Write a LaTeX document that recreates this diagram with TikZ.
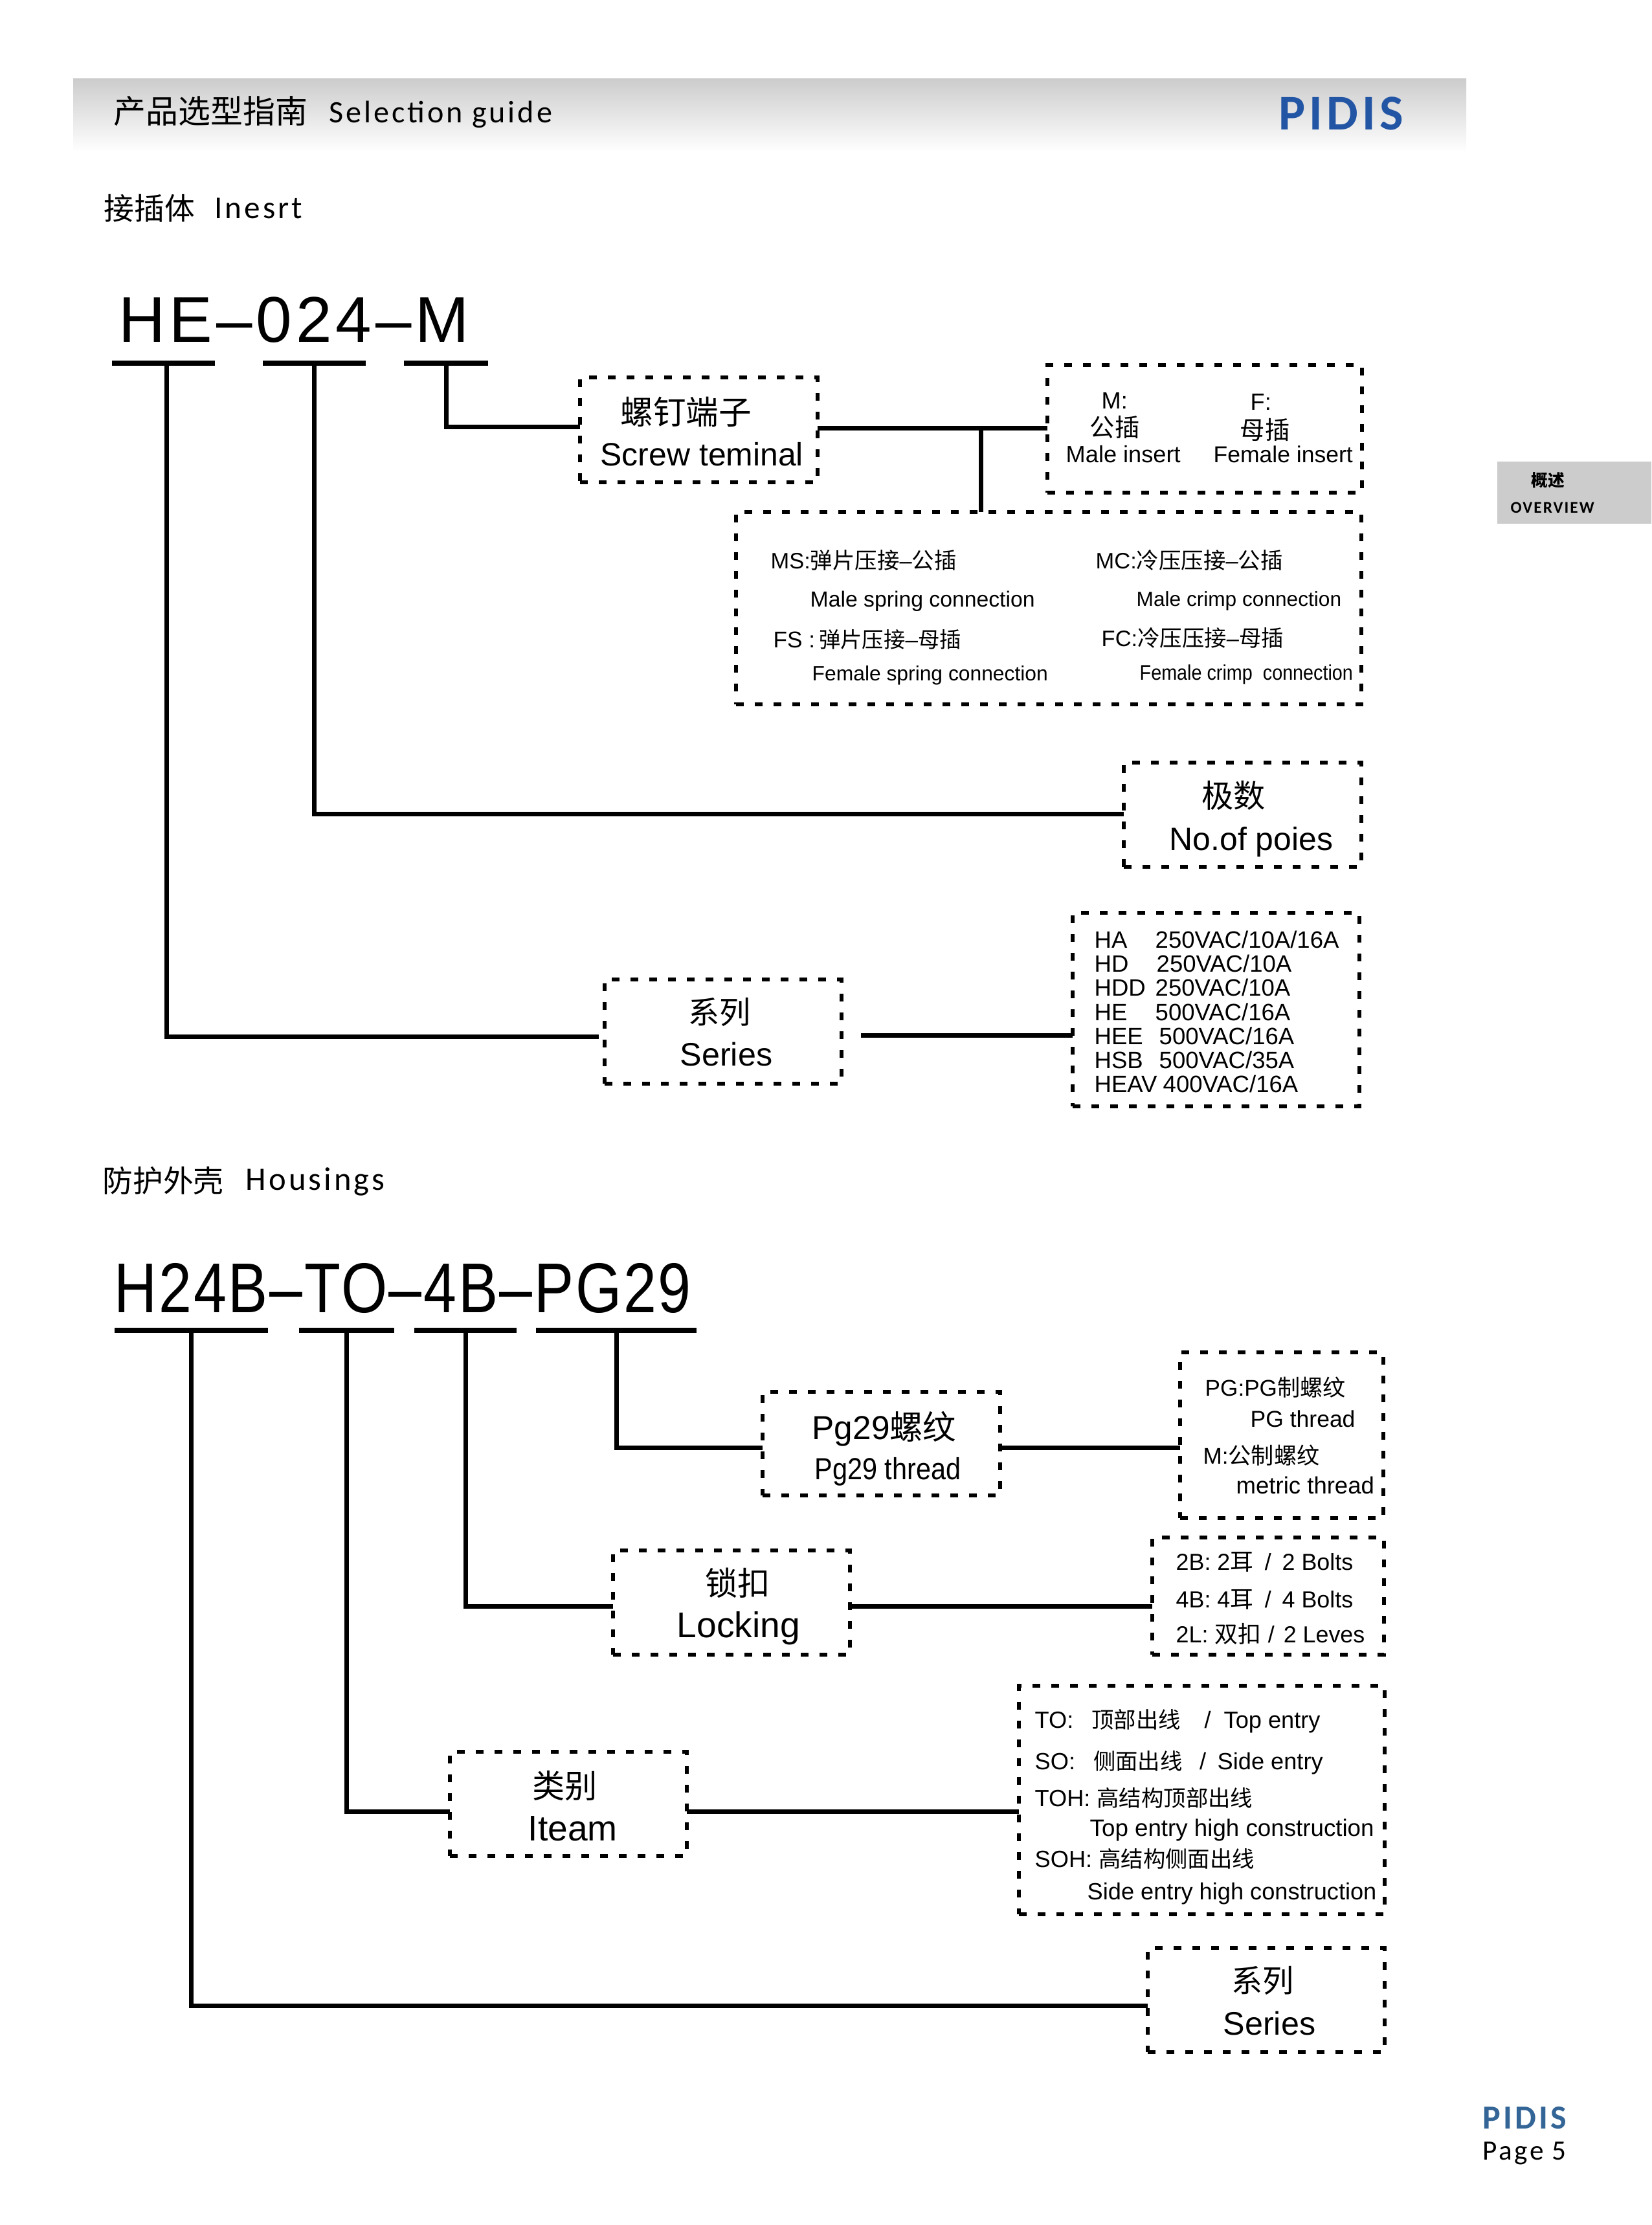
\documentclass[tikz,border=0pt]{standalone}
\usepackage{fontspec}
\usepackage{xcolor}
\usepackage{tikz}
\usetikzlibrary{calc}
\setmainfont{Liberation Sans}
\newfontfamily\cjk{Noto Sans CJK SC}
\newfontfamily\cjksmall[Scale=0.95]{Noto Sans CJK SC}
\newfontfamily\condfont[FakeStretch=0.88]{Liberation Sans}
\newfontfamily\codeafont[LetterSpace=6]{Liberation Sans}
\newfontfamily\codebfont[FakeStretch=0.84,LetterSpace=2.5]{Liberation Sans}
\newfontfamily\headfont[LetterSpace=8]{Carlito}
\newcommand{\zh}[1]{{\cjk #1}}
\newcommand{\zhs}[1]{{\cjksmall #1}}
\definecolor{logoc}{RGB}{35,85,165}
\definecolor{footc}{RGB}{51,101,150}

\begin{document}
\begin{tikzpicture}[
    txt/.style={anchor=base west, inner sep=0pt, font=\fontsize{#1}{#1}\selectfont},
    dbox/.style={draw, anchor=north west, inner sep=0pt, outer sep=0pt, line width=0.055cm,
      dash pattern=on 0.12cm off 0.17cm},
    bar/.style={fill=black, inner sep=0pt, outer sep=0pt, minimum height=0.08cm, minimum width=#1},
    wire/.style={line width=0.07cm}]
  \useasboundingbox (0,0) rectangle (25.51,-34.37);
  \node[anchor=north west, inner sep=0pt, outer sep=0pt, minimum width=21.52cm, minimum height=1.14cm,
    top color=black!20, bottom color=white] (head) at (1.13,-1.21) {};
  \node[txt=14.2] (headzh) at (1.75,-1.90) {\zh{产品选型指南}};
  \node[txt=13.7] (headen) at (5.08,-1.89) {\headfont Selection guide};
  \node[txt=22, text=logoc] (headlogo) at (19.75,-2.00) {\headfont\bfseries PIDIS};
  \node[anchor=north west, inner sep=0pt, outer sep=0pt, minimum width=2.38cm, minimum height=0.96cm,
    fill=black!20] (tab) at (23.13,-7.13) {};
  \node[txt=7.3] (tabzh) at (23.65,-7.51) {\cjk\bfseries 概述};
  \node[txt=7.2] (taben) at (23.33,-7.92) {\headfont\bfseries OVERVIEW};
  \node[txt=14.8, text=footc] (footlogo) at (22.90,-32.88) {\headfont\bfseries PIDIS};
  \node[txt=12.3] (footpage) at (22.90,-33.36) {\headfont Page 5};

  \node[txt=13.3] (secazh) at (1.60,-3.39) {\zh{接插体}};
  \node[txt=14] (secaen) at (3.31,-3.37) {\headfont Inesrt};
  \node[txt=28.4] (codea) at (1.83,-5.28) {\codeafont HE–024–M};
  \node[bar=1.59cm] (barhe) at (2.525,-5.61) {};
  \node[bar=1.59cm] (barpole) at (4.855,-5.61) {};
  \node[bar=1.30cm] (barm) at (6.89,-5.61) {};

  \node[dbox, minimum width=3.67cm, minimum height=1.62cm] (screw) at (8.96,-5.83) {};
  \node[txt=14.4] (screwzh) at (9.58,-6.55) {\zh{螺钉端子}};
  \node[txt=14.2] (screwen) at (9.27,-7.19) {Screw teminal};

  \node[dbox, minimum width=4.86cm, minimum height=1.97cm] (mf) at (16.18,-5.64) {};
  \node[txt=10.3] (mcode) at (17.01,-6.31) {M:};
  \node[txt=10.9] (mzh) at (16.83,-6.74) {\zh{公插}};
  \node[txt=10.3] (men) at (16.46,-7.14) {Male insert};
  \node[txt=10.3] (fcode) at (19.31,-6.33) {F:};
  \node[txt=10.9] (fzh) at (19.15,-6.78) {\zh{母插}};
  \node[txt=10.1] (fen) at (18.74,-7.14) {Female insert};

  \node[dbox, minimum width=9.66cm, minimum height=2.97cm] (conn) at (11.37,-7.91) {};
  \node[txt=9.8] (mszh) at (11.90,-8.78) {MS:\zh{弹片压接}–\zh{公插}};
  \node[txt=9.6] (msen) at (12.51,-9.37) {Male spring connection};
  \node[txt=10] (fszh) at (11.94,-10.00) {FS :\,\zhs{弹片压接}–\zhs{母插}};
  \node[txt=9.05] (fsen) at (12.54,-10.51) {Female spring connection};
  \node[txt=9.8] (mczh) at (16.92,-8.78) {MC:\zh{冷压压接}–\zh{公插}};
  \node[txt=9] (mcen) at (17.55,-9.36) {Male crimp connection};
  \node[txt=9.8] (fczh) at (17.01,-9.98) {FC:\zh{冷压压接}–\zh{母插}};
  \node[txt=9.3] (fcen) at (17.60,-10.50) {\condfont Female crimp\ \ connection};

  \node[dbox, minimum width=3.67cm, minimum height=1.61cm] (pole) at (17.36,-11.78) {};
  \node[txt=14] (polezh) at (18.56,-12.47) {\zh{极数}};
  \node[txt=14.2] (poleen) at (18.06,-13.13) {No.of poies};

  \node[dbox, minimum width=3.66cm, minimum height=1.61cm] (serie) at (9.34,-15.13) {};
  \node[txt=13.7] (seriezh) at (10.63,-15.81) {\zh{系列}};
  \node[txt=14.3] (serieen) at (10.50,-16.46) {Series};

  \node[dbox, minimum width=4.43cm, minimum height=2.99cm] (rating) at (16.57,-14.10) {};
  \foreach \i/\y/\code/\vx/\val in {
      1/14.64/HA/17.84/{250VAC/10A/16A},
      2/15.01/HD/17.86/{250VAC/10A},
      3/15.38/HDD/17.84/{250VAC/10A},
      4/15.76/HE/17.84/{500VAC/16A},
      5/16.13/HEE/17.90/{500VAC/16A},
      6/16.50/HSB/17.90/{500VAC/35A},
      7/16.87/HEAV/17.96/{400VAC/16A}} {
    \node[txt=10.4] (code\i) at (16.90,-\y) {\code};
    \node[txt=10.4] (val\i) at (\vx,-\y) {\val};
  }

  \coordinate (tee) at (15.15,-6.61);
  \coordinate (screwin) at (0,-6.59);
  \coordinate (polerow) at (0,-12.57);
  \coordinate (seriein) at (9.25,-16.01);
  \coordinate (serieout) at (13.30,-15.99);
  \draw[wire] (barm.south) |- (screwin -| screw.west);
  \draw[wire] (tee -| screw.east) -- (tee -| mf.west);
  \draw[wire] (tee) -- (tee |- conn.north);
  \draw[wire] (barpole.south) |- (polerow -| pole.west);
  \draw[wire] ([xshift=0.045cm]barhe.south) |- (seriein);
  \draw[wire] (serieout) -- (serieout -| rating.west);

  \node[txt=13.3] (secbzh) at (1.58,-18.41) {\zh{防护外壳}};
  \node[txt=14.4] (secben) at (3.79,-18.38) {\headfont Housings};
  \node[txt=31] (codeb) at (1.76,-20.27) {\codebfont H24B–TO–4B–PG29};
  \node[bar=2.37cm] (barh) at (2.955,-20.55) {};
  \node[bar=1.47cm] (barto) at (5.355,-20.55) {};
  \node[bar=1.58cm] (barb) at (7.19,-20.55) {};
  \node[bar=2.48cm] (barpg) at (9.52,-20.55) {};

  \node[dbox, minimum width=3.67cm, minimum height=1.60cm] (thread) at (11.78,-21.50) {};
  \node[txt=14.6] (threadzh) at (12.54,-22.23) {Pg29\zh{螺纹}};
  \node[txt=13.4] (threaden) at (12.58,-22.85) {\condfont Pg29 thread};

  \node[dbox, minimum width=3.14cm, minimum height=2.56cm] (pgbox) at (18.23,-20.89) {};
  \node[txt=10] (pgzh) at (18.61,-21.56) {PG:PG\zh{制螺纹}};
  \node[txt=10.1] (pgen) at (19.31,-22.04) {PG thread};
  \node[txt=10] (metzh) at (18.58,-22.61) {M:\zh{公制螺纹}};
  \node[txt=10.4] (meten) at (19.09,-23.07) {metric thread};

  \node[dbox, minimum width=3.66cm, minimum height=1.61cm] (lock) at (9.47,-23.95) {};
  \node[txt=14.3] (lockzh) at (10.89,-24.64) {\zh{锁扣}};
  \node[txt=15.7] (locken) at (10.45,-25.29) {Locking};

  \node[dbox, minimum width=3.58cm, minimum height=1.81cm] (bolts) at (17.80,-23.75) {};
  \node[txt=10.2] (bolta) at (18.16,-24.25) {2B: 2\zh{耳}\hspace{5pt}/\hspace{4.8pt}2 Bolts};
  \node[txt=10.2] (boltb) at (18.16,-24.83) {4B: 4\zh{耳}\hspace{5pt}/\hspace{4.8pt}4 Bolts};
  \node[txt=10.2] (boltc) at (18.16,-25.37) {2L: \zh{双扣}\hspace{3pt}/\hspace{4pt}2 Leves};

  \node[dbox, minimum width=3.66cm, minimum height=1.61cm] (item) at (6.95,-27.06) {};
  \node[txt=14.3] (itemzh) at (8.22,-27.77) {\zh{类别}};
  \node[txt=15.7] (itemen) at (8.15,-28.43) {Iteam};

  \node[dbox, minimum width=5.65cm, minimum height=3.53cm] (entry) at (15.74,-26.04) {};
  \node[txt=10.3] (toa) at (15.98,-26.69) {TO:\hspace{8pt}\zhs{顶部出线}\hspace{10.4pt}/\hspace{5.7pt}Top entry};
  \node[txt=10.3] (soa) at (15.98,-27.33) {SO:\hspace{8pt}\zhs{侧面出线}\hspace{7.5pt}/\hspace{5pt}Side entry};
  \node[txt=10.3] (toh) at (15.98,-27.90) {TOH: \zhs{高结构顶部出线}};
  \node[txt=10.45] (tohen) at (16.83,-28.36) {Top entry high construction};
  \node[txt=10.3] (soh) at (15.98,-28.84) {SOH: \zhs{高结构侧面出线}};
  \node[txt=10.3] (sohen) at (16.79,-29.34) {Side entry high construction};

  \node[dbox, minimum width=3.66cm, minimum height=1.61cm] (serieb) at (17.73,-30.09) {};
  \node[txt=13.7] (seriebzh) at (19.02,-30.77) {\zh{系列}};
  \node[txt=14.3] (seriebeb) at (18.89,-31.43) {Series};

  \coordinate (pgrow) at (0,-22.36);
  \coordinate (lockrow) at (0,-24.81);
  \coordinate (itemrow) at (0,-27.98);
  \coordinate (seriesrow) at (0,-30.98);
  \draw[wire] (barpg.south) |- (pgrow -| thread.west);
  \draw[wire] (pgrow -| thread.east) -- (pgrow -| pgbox.west);
  \draw[wire] (barb.south) |- (lockrow -| lock.west);
  \draw[wire] (lockrow -| lock.east) -- (lockrow -| bolts.west);
  \draw[wire] (barto.south) |- (itemrow -| item.west);
  \draw[wire] (itemrow -| item.east) -- (itemrow -| entry.west);
  \draw[wire] (barh.south) |- (seriesrow -| serieb.west);
\end{tikzpicture}
\end{document}
